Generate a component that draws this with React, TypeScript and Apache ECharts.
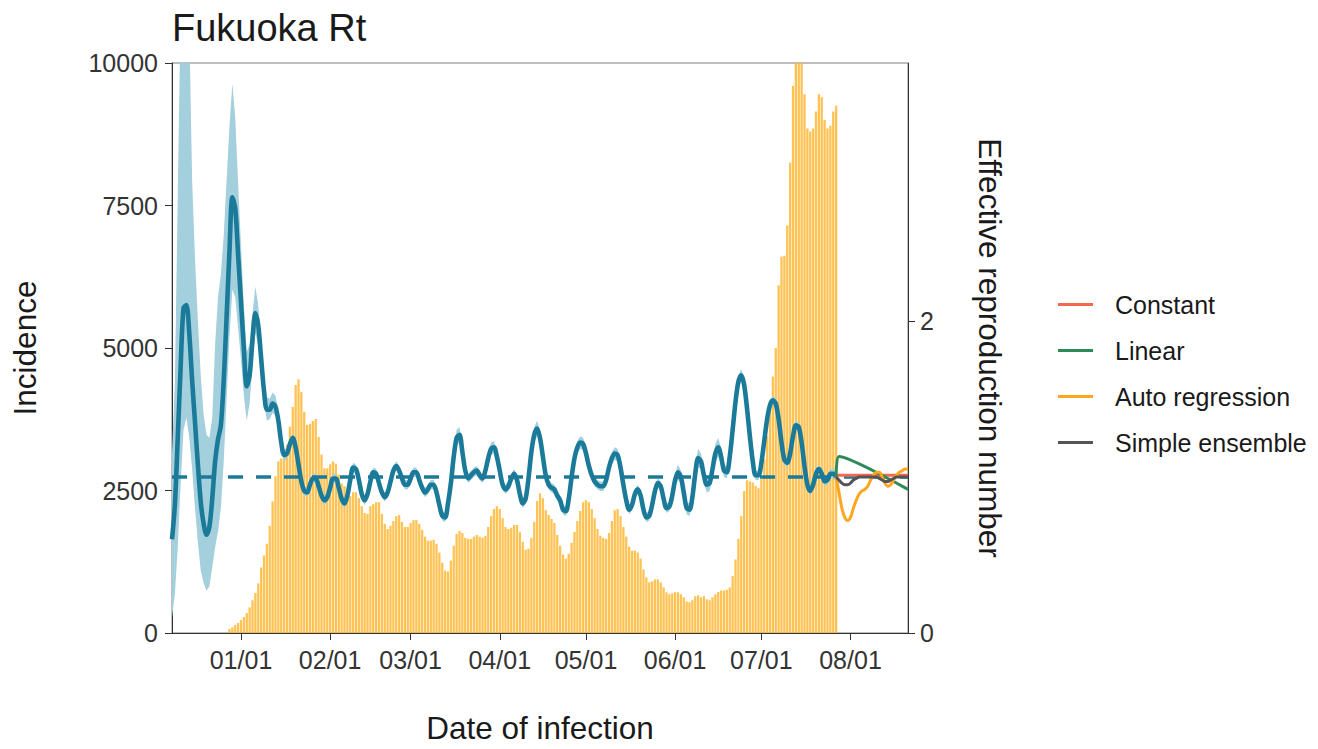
import React, { useEffect, useRef } from "react";
import * as echarts from "echarts";

// ---------- data ----------
const incidenceStart = "2021-12-28";
// daily incidence, one value per day starting at incidenceStart
const incidence = [
  70, 100, 140, 175, 225, 280, 350, 450, 575, 700,
  870, 1150, 1360, 1565, 1880, 2310, 2750, 3010, 3060, 3180,
  3300, 3620, 3965, 4350, 4450, 4225, 3880, 3650, 3670, 3720,
  3755, 3440, 3130, 2890, 2890, 2960, 3010, 2970, 2780, 2625,
  2575, 2520, 2400, 2470, 2470, 2365, 2225, 2105, 2090, 2225,
  2260, 2295, 2295, 2090, 1915, 1825, 1880, 1965, 2050, 2070,
  1950, 1860, 1860, 1930, 1980, 1980, 1915, 1810, 1690, 1620,
  1620, 1635, 1565, 1410, 1235, 1095, 1080, 1270, 1530, 1740,
  1790, 1755, 1670, 1650, 1650, 1690, 1720, 1690, 1670, 1705,
  1860, 2050, 2175, 2225, 2175, 2015, 1860, 1825, 1845, 1895,
  1895, 1775, 1600, 1460, 1480, 1670, 1950, 2315, 2450, 2365,
  2155, 2070, 2000, 1930, 1720, 1530, 1375, 1305, 1390, 1580,
  1775, 1965, 2140, 2295, 2330, 2295, 2175, 2015, 1825, 1705,
  1670, 1650, 1755, 1965, 2155, 2175, 2050, 1860, 1690, 1515,
  1445, 1445, 1410, 1305, 1115, 975, 890, 905, 940, 940,
  890, 800, 715, 680, 695, 715, 715, 680, 625, 555,
  540, 575, 645, 660, 625, 645, 590, 575, 625, 680,
  720, 745, 745, 760, 800, 1000, 1290, 1650, 2050, 2490,
  2680, 2660, 2640, 2580, 2540, 2700, 3050, 3450, 3950, 4500,
  5000, 6100, 6600, 6620, 7150, 8250, 9600, 10400, 10700, 10300,
  9450, 8850, 8800, 8850, 9150, 9450, 9400, 9000, 8850, 8900,
  9150, 9250,
];

const rtStart = "2021-12-08";
// daily effective reproduction number (posterior mean) and its ribbon
const rtMean = [
  0.60, 0.82, 1.25, 1.70, 2.08, 2.10, 1.92, 1.62, 1.35, 1.08,
  0.84, 0.70, 0.63, 0.68, 0.86, 1.10, 1.24, 1.33, 1.62, 2.03,
  2.45, 2.79, 2.72, 2.42, 2.12, 1.82, 1.58, 1.65, 1.88, 2.05,
  1.97, 1.76, 1.55, 1.43, 1.43, 1.47, 1.45, 1.36, 1.22, 1.14,
  1.15, 1.21, 1.25, 1.19, 1.08, 0.97, 0.91, 0.90, 0.95, 0.99,
  0.99, 0.94, 0.88, 0.85, 0.87, 0.93, 0.99, 0.99, 0.93, 0.86,
  0.83, 0.88, 0.98, 1.06, 1.05, 0.98, 0.89, 0.85, 0.89, 0.97,
  1.03, 1.02, 0.96, 0.90, 0.87, 0.90, 0.97, 1.04, 1.07, 1.04,
  0.99, 0.95, 0.95, 0.99, 1.03, 1.03, 0.98, 0.93, 0.90, 0.92,
  0.95, 0.95, 0.90, 0.82, 0.75, 0.74, 0.83, 0.96, 1.13, 1.25,
  1.27, 1.16, 1.04, 0.99, 1.01, 1.03, 1.04, 1.01, 0.99, 1.04,
  1.12, 1.18, 1.19, 1.13, 1.04, 0.95, 0.92, 0.94, 0.99, 1.02,
  0.98, 0.89, 0.83, 0.86, 0.99, 1.16, 1.27, 1.31, 1.25, 1.13,
  1.01, 0.95, 0.93, 0.92, 0.88, 0.85, 0.79, 0.78, 0.86, 1.00,
  1.12, 1.19, 1.22, 1.21, 1.15, 1.07, 1.01, 0.97, 0.95, 0.94,
  0.94, 0.98, 1.06, 1.12, 1.15, 1.14, 1.06, 0.95, 0.85, 0.79,
  0.82, 0.89, 0.92, 0.88, 0.79, 0.74, 0.75, 0.82, 0.91, 0.96,
  0.94, 0.86, 0.80, 0.81, 0.88, 0.98, 1.03, 1.00, 0.90, 0.80,
  0.79, 0.87, 1.02, 1.12, 1.10, 1.01, 0.95, 0.96, 1.05, 1.15,
  1.19, 1.13, 1.04, 1.03, 1.13, 1.30, 1.48, 1.61, 1.65, 1.59,
  1.44, 1.26, 1.10, 1.01, 1.01, 1.09, 1.23, 1.37, 1.46, 1.49,
  1.47, 1.37, 1.22, 1.11, 1.09, 1.15, 1.26, 1.33, 1.32, 1.22,
  1.07, 0.95, 0.91, 0.95, 1.02, 1.05, 1.02, 0.97, 0.98, 1.02,
  1.02, 1.00,
];
const rtLower = [
  0.10, 0.25, 0.55, 0.95, 1.30, 1.38, 1.25, 1.05, 0.80, 0.58,
  0.40, 0.32, 0.27, 0.30, 0.42, 0.55, 0.65, 0.80, 1.10, 1.50,
  1.90, 2.20, 2.15, 1.95, 1.75, 1.52, 1.36, 1.47, 1.72, 1.92,
  1.84, 1.65, 1.47, 1.36, 1.37, 1.41, 1.39, 1.31, 1.18, 1.10,
  1.12, 1.18, 1.22, 1.16, 1.05, 0.94, 0.88, 0.87, 0.92, 0.96,
  0.96, 0.91, 0.85, 0.82, 0.84, 0.90, 0.96, 0.96, 0.90, 0.83,
  0.80, 0.85, 0.95, 1.03, 1.02, 0.95, 0.86, 0.82, 0.86, 0.94,
  1.00, 0.99, 0.93, 0.87, 0.84, 0.87, 0.94, 1.01, 1.04, 1.01,
  0.96, 0.92, 0.92, 0.96, 1.00, 1.00, 0.95, 0.90, 0.87, 0.89,
  0.92, 0.92, 0.87, 0.79, 0.72, 0.71, 0.80, 0.92, 1.08, 1.20,
  1.22, 1.12, 1.01, 0.96, 0.98, 1.00, 1.01, 0.98, 0.96, 1.01,
  1.08, 1.14, 1.15, 1.10, 1.01, 0.92, 0.89, 0.91, 0.96, 0.99,
  0.95, 0.86, 0.80, 0.83, 0.95, 1.12, 1.22, 1.26, 1.20, 1.09,
  0.98, 0.92, 0.90, 0.89, 0.85, 0.82, 0.76, 0.75, 0.83, 0.96,
  1.08, 1.15, 1.18, 1.17, 1.11, 1.04, 0.98, 0.94, 0.92, 0.91,
  0.91, 0.95, 1.03, 1.08, 1.11, 1.10, 1.03, 0.92, 0.82, 0.76,
  0.79, 0.86, 0.89, 0.85, 0.76, 0.71, 0.72, 0.79, 0.88, 0.93,
  0.91, 0.83, 0.77, 0.78, 0.85, 0.94, 0.98, 0.96, 0.86, 0.76,
  0.75, 0.83, 0.97, 1.06, 1.05, 0.96, 0.90, 0.91, 0.99, 1.09,
  1.13, 1.08, 1.00, 0.99, 1.09, 1.26, 1.44, 1.57, 1.61, 1.55,
  1.41, 1.23, 1.07, 0.98, 0.98, 1.06, 1.20, 1.34, 1.43, 1.46,
  1.44, 1.34, 1.19, 1.08, 1.06, 1.12, 1.23, 1.30, 1.29, 1.19,
  1.04, 0.92, 0.88, 0.92, 0.99, 1.02, 0.99, 0.94, 0.95, 0.99,
  0.99, 0.97,
];
const rtUpper = [
  1.15, 1.60, 2.80, 4.00, 4.60, 4.60, 3.90, 2.90, 2.40, 2.00,
  1.65, 1.40, 1.27, 1.25, 1.38, 1.85, 2.15, 2.30, 2.55, 2.90,
  3.25, 3.52, 3.30, 2.88, 2.48, 2.10, 1.80, 1.85, 2.05, 2.22,
  2.10, 1.88, 1.64, 1.51, 1.50, 1.54, 1.52, 1.42, 1.27, 1.18,
  1.18, 1.24, 1.28, 1.22, 1.11, 1.00, 0.94, 0.93, 0.98, 1.02,
  1.02, 0.97, 0.91, 0.88, 0.90, 0.96, 1.02, 1.02, 0.96, 0.89,
  0.86, 0.91, 1.01, 1.09, 1.08, 1.01, 0.92, 0.88, 0.92, 1.00,
  1.06, 1.05, 0.99, 0.93, 0.90, 0.93, 1.00, 1.07, 1.10, 1.07,
  1.02, 0.98, 0.98, 1.02, 1.06, 1.06, 1.01, 0.96, 0.93, 0.95,
  0.98, 0.98, 0.93, 0.85, 0.78, 0.77, 0.86, 1.00, 1.18, 1.30,
  1.32, 1.20, 1.07, 1.02, 1.04, 1.06, 1.07, 1.04, 1.02, 1.07,
  1.16, 1.22, 1.23, 1.16, 1.07, 0.98, 0.95, 0.97, 1.02, 1.05,
  1.01, 0.92, 0.86, 0.89, 1.03, 1.20, 1.32, 1.36, 1.30, 1.17,
  1.04, 0.98, 0.96, 0.95, 0.91, 0.88, 0.82, 0.81, 0.89, 1.04,
  1.16, 1.23, 1.26, 1.25, 1.19, 1.10, 1.04, 1.00, 0.98, 0.97,
  0.97, 1.01, 1.09, 1.16, 1.19, 1.18, 1.09, 0.98, 0.88, 0.82,
  0.85, 0.92, 0.95, 0.91, 0.82, 0.77, 0.78, 0.85, 0.94, 0.99,
  0.97, 0.89, 0.83, 0.84, 0.91, 1.02, 1.08, 1.04, 0.94, 0.84,
  0.83, 0.91, 1.07, 1.18, 1.15, 1.06, 1.00, 1.01, 1.11, 1.21,
  1.25, 1.18, 1.08, 1.07, 1.17, 1.34, 1.52, 1.65, 1.69, 1.63,
  1.47, 1.29, 1.13, 1.04, 1.04, 1.12, 1.26, 1.40, 1.49, 1.52,
  1.50, 1.40, 1.25, 1.14, 1.12, 1.18, 1.29, 1.36, 1.35, 1.25,
  1.10, 0.98, 0.94, 0.98, 1.05, 1.08, 1.05, 1.00, 1.01, 1.05,
  1.05, 1.03,
];

// forecasts of Rt
const constantDates = ["2022-07-27", "2022-08-21"];
const constantValues = [1.01, 1.01];
const linearDates = ["2022-07-27", "2022-07-28", "2022-08-21"];
const linearValues = [1.0, 1.13, 0.92];
const forecastStart = "2022-07-27";
const autoRegressionValues = [
  1.0, 0.9, 0.8, 0.74, 0.72, 0.74, 0.8, 0.85, 0.89, 0.91, 0.92, 0.94, 0.98,
  1.01, 1.03, 1.03, 1.0, 0.96, 0.94, 0.95, 0.98, 1.01, 1.03, 1.04, 1.05, 1.05,
];
const ensembleValues = [
  1.0, 0.98, 0.96, 0.95, 0.95, 0.96, 0.98, 0.99, 1.0, 1.0, 1.0, 1.0, 1.0,
  1.0, 1.0, 0.99, 0.98, 0.97, 0.97, 0.98, 0.99, 1.0, 1.0, 1.0, 1.0, 1.0,
];

const xStartDate = "2021-12-08";
const xEndDate = "2022-08-21";
const monthTickDates = [
  "2022-01-01", "2022-02-01", "2022-03-01", "2022-04-01",
  "2022-05-01", "2022-06-01", "2022-07-01", "2022-08-01",
];
const incidenceTicks = [0, 2500, 5000, 7500, 10000];
const rtTicks = [0, 2];
const rtThreshold = 1;

const legendNames = ["Constant", "Linear", "Auto regression", "Simple ensemble"];
const legendColors = ["#F4684E", "#2E8B57", "#FFA51F", "#555555"];

// ---------- helpers ----------
const DAY = 86400000;
const ORIGIN = Date.UTC(2022, 0, 1);
function dayIndex(s: string): number {
  const [y, m, d] = s.split("-").map(Number);
  return Math.round((Date.UTC(y, m - 1, d) - ORIGIN) / DAY);
}
function dayLabel(v: number): string {
  const dt = new Date(ORIGIN + Math.round(v) * DAY);
  const mm = String(dt.getUTCMonth() + 1).padStart(2, "0");
  const dd = String(dt.getUTCDate()).padStart(2, "0");
  return `${mm}/${dd}`;
}
function seq(start: string, values: number[]): [number, number][] {
  const s = dayIndex(start);
  return values.map((v, i) => [s + i, v]);
}
function pairs(dates: string[], values: number[]): [number, number][] {
  return dates.map((d, i) => [dayIndex(d), values[i]]);
}

const FONT = "'Liberation Sans', Arial, Helvetica, sans-serif";
const RT_COLOR = "#1B7A99";
const RIBBON_COLOR = "#A3D0DC";
const BAR_COLOR = "#FFB52E";
const AXIS_COLOR = "#333333";
const TEXT_COLOR = "#1a1a1a";

export default function App() {
  const ref = useRef<HTMLDivElement>(null);

  useEffect(() => {
    if (!ref.current) return;
    const chart = echarts.init(ref.current, undefined, { renderer: "svg" });

    const xTicks = monthTickDates.map(dayIndex);
    const bars = seq(incidenceStart, incidence);
    const mean = seq(rtStart, rtMean);
    const lowerPts = seq(rtStart, rtLower);
    const upperPts = seq(rtStart, rtUpper);

    const forecastLine = (name: string, data: [number, number][], color: string, z: number) => ({
      name,
      type: "line",
      xAxisIndex: 0,
      yAxisIndex: 1,
      data,
      showSymbol: false,
      symbol: "none",
      smooth: 0.3,
      color,
      lineStyle: { color, width: 3 },
      z,
      clip: true,
    });

    chart.setOption({
      animation: false,
      backgroundColor: "#ffffff",
      textStyle: { fontFamily: FONT },
      title: {
        text: "Fukuoka Rt",
        left: 172,
        top: 9,
        padding: 0,
        textStyle: { fontFamily: FONT, fontSize: 38, fontWeight: "normal", color: TEXT_COLOR },
      },
      legend: {
        orient: "vertical",
        left: 1058,
        top: 292,
        padding: 0,
        itemWidth: 35,
        itemHeight: 3,
        itemGap: 21,
        icon: "rect",
        data: legendNames,
        selectedMode: false,
        textStyle: {
          fontFamily: FONT,
          fontSize: 25,
          color: TEXT_COLOR,
          lineHeight: 25,
          padding: [0, 0, 0, 17],
        },
      },
      grid: {
        left: 172,
        right: 410,
        top: 63,
        bottom: 111,
        show: true,
        borderColor: "#7f7f7f",
        borderWidth: 1,
        backgroundColor: "transparent",
        containLabel: false,
      },
      xAxis: {
        type: "value",
        min: dayIndex(xStartDate),
        max: dayIndex(xEndDate),
        name: "Date of infection",
        nameLocation: "middle",
        nameGap: 79,
        nameTextStyle: { fontFamily: FONT, fontSize: 31.5, color: TEXT_COLOR },
        axisLine: { show: true, onZero: false, lineStyle: { color: AXIS_COLOR, width: 1 } },
        axisTick: { show: true, length: 7, customValues: xTicks, lineStyle: { color: AXIS_COLOR } },
        axisLabel: {
          customValues: xTicks,
          formatter: (v: number) => dayLabel(v),
          fontFamily: FONT,
          fontSize: 25,
          color: "#333333",
          margin: 14,
        },
        splitLine: { show: false },
      },
      yAxis: [
        {
          type: "value",
          min: 0,
          max: 10000,
          interval: 2500,
          name: "Incidence",
          nameLocation: "middle",
          nameGap: 131,
          nameTextStyle: { fontFamily: FONT, fontSize: 31.5, color: TEXT_COLOR },
          axisLine: { show: true, onZero: false, lineStyle: { color: AXIS_COLOR, width: 1 } },
          axisTick: { show: true, length: 7, customValues: incidenceTicks, lineStyle: { color: AXIS_COLOR } },
          axisLabel: {
            customValues: incidenceTicks,
            formatter: (v: number) => String(v),
            fontFamily: FONT,
            fontSize: 25,
            color: "#333333",
            margin: 14,
          },
          splitLine: { show: false },
        },
        {
          type: "value",
          position: "right",
          min: 0,
          max: 3.651,
          name: "Effective reproduction number",
          nameLocation: "middle",
          nameRotate: -90,
          nameGap: 66,
          nameTextStyle: { fontFamily: FONT, fontSize: 31.5, color: TEXT_COLOR },
          axisLine: { show: true, onZero: false, lineStyle: { color: AXIS_COLOR, width: 1 } },
          axisTick: { show: true, length: 7, customValues: rtTicks, lineStyle: { color: AXIS_COLOR } },
          axisLabel: {
            customValues: rtTicks,
            formatter: (v: number) => String(v),
            fontFamily: FONT,
            fontSize: 25,
            color: "#333333",
            margin: 12,
          },
          splitLine: { show: false },
        },
      ],
      series: [
        {
          name: "Incidence",
          type: "bar",
          xAxisIndex: 0,
          yAxisIndex: 0,
          data: bars,
          barWidth: 2.3,
          clip: true,
          itemStyle: { color: BAR_COLOR, opacity: 0.82 },
          z: 1,
        },
        {
          name: "ribbon",
          type: "custom",
          xAxisIndex: 0,
          yAxisIndex: 1,
          data: [[dayIndex(rtStart), rtMean[0]]],
          clip: true,
          silent: true,
          z: 2,
          renderItem: (params: any, api: any) => {
            const upper = upperPts.map((p) => api.coord(p));
            const lower = lowerPts.map((p) => api.coord(p)).reverse();
            const cs = params.coordSys;
            return {
              type: "polygon",
              shape: { points: upper.concat(lower) },
              style: { fill: RIBBON_COLOR, stroke: "none" },
              clipPath: {
                type: "rect",
                shape: { x: cs.x, y: cs.y, width: cs.width, height: cs.height },
              },
            };
          },
          markLine: {
            silent: true,
            symbol: "none",
            label: { show: false },
            lineStyle: { color: RT_COLOR, width: 3.5, type: [15, 13] },
            data: [{ yAxis: rtThreshold }],
          },
        },
        {
          name: "Rt",
          type: "line",
          xAxisIndex: 0,
          yAxisIndex: 1,
          data: mean,
          smooth: 0.3,
          showSymbol: false,
          symbol: "none",
          color: RT_COLOR,
          lineStyle: { color: RT_COLOR, width: 4.6 },
          clip: true,
          z: 4,
        },
        forecastLine(legendNames[0], pairs(constantDates, constantValues), legendColors[0], 5),
        forecastLine(legendNames[1], pairs(linearDates, linearValues), legendColors[1], 6),
        forecastLine(legendNames[2], seq(forecastStart, autoRegressionValues), legendColors[2], 7),
        forecastLine(legendNames[3], seq(forecastStart, ensembleValues), legendColors[3], 8),
      ],
    });

    return () => chart.dispose();
  }, []);

  return (
    <div
      ref={ref}
      style={{ position: "fixed", left: 0, top: 0, width: 1318, height: 749, background: "#fff" }}
    />
  );
}
